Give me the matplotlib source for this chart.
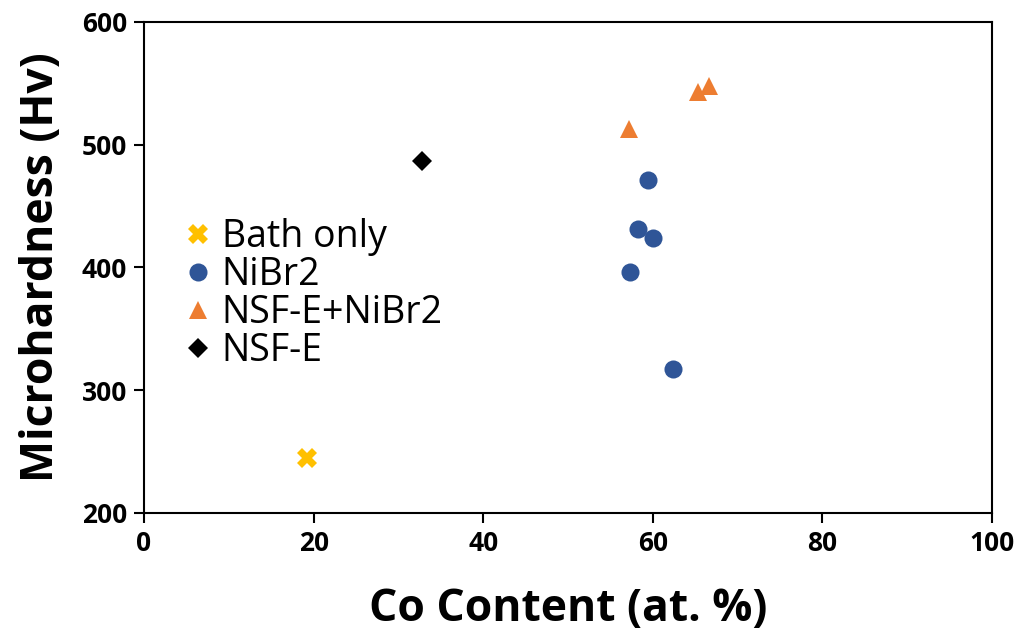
import matplotlib.pyplot as plt

# Co content (at. %) and microhardness (Hv) per bath
bath_co = [19.2]
bath_hv = [245]

nibr2_co = [59.4, 58.3, 60.0, 57.3, 62.4]
nibr2_hv = [471, 431, 424, 396, 317]

nsf_nibr2_co = [57.2, 65.3, 66.6]
nsf_nibr2_hv = [513, 543, 548]

nsf_co = [32.8]
nsf_hv = [487]

plt.rcParams['font.family'] = ['Open Sans', 'DejaVu Sans']

fig = plt.figure(figsize=(10.23, 6.37), dpi=100)
ax = fig.add_axes([0.1408, 0.1947, 0.8289, 0.7708])

ax.plot(bath_co, bath_hv, 'X', color='#FFC000', markersize=14, markeredgewidth=0, label='Bath only')
ax.plot(nibr2_co, nibr2_hv, 'o', color='#2F5597', markersize=13, markeredgewidth=0, label='NiBr2')
ax.plot(nsf_nibr2_co, nsf_nibr2_hv, '^', color='#ED7D31', markersize=13, markeredgewidth=0, label='NSF-E+NiBr2')
ax.plot(nsf_co, nsf_hv, 'D', color='black', markersize=10, markeredgewidth=0, label='NSF-E')

ax.set_xlim(0, 100)
ax.set_ylim(200, 600)
ax.set_xticks(range(0, 101, 20))
ax.set_yticks(range(200, 601, 100))

for s in ax.spines.values():
    s.set_linewidth(1.5)
ax.tick_params(direction='out', length=7, width=1.5, labelsize=19, pad=5)
for lbl in ax.get_xticklabels() + ax.get_yticklabels():
    lbl.set_fontweight('bold')

ax.set_xlabel('Co Content (at. %)', fontsize=32, fontweight='bold', labelpad=22)
ax.set_ylabel('Microhardness (Hv)', fontsize=32, fontweight='bold', labelpad=13)

ax.legend(loc='upper left', bbox_to_anchor=(0.05, 0.60), frameon=False, fontsize=27,
          handlelength=0.6, handletextpad=0.34, labelspacing=0.0, borderpad=0,
          borderaxespad=0)

fig.savefig('out.png', dpi=100)
